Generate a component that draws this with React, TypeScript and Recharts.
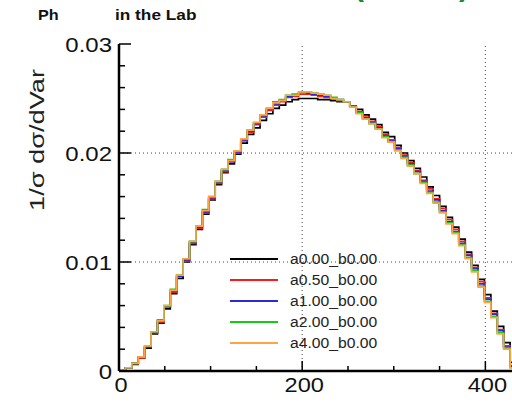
import React from "react";
import { LineChart, Line, XAxis, YAxis, ReferenceLine, Legend } from "recharts";

const FONT = '"Liberation Sans", Arial, Helvetica, sans-serif';

// left edge of each 7-unit bin (last entry closes the final bin)
const binEdges = [
    0, 7, 14, 21, 28, 35, 42, 49, 56, 63,
    70, 77, 84, 91, 98, 105, 112, 119, 126, 133,
    140, 147, 154, 161, 168, 175, 182, 189, 196, 203,
    210, 217, 224, 231, 238, 245, 252, 259, 266, 273,
    280, 287, 294, 301, 308, 315, 322, 329, 336, 343,
    350, 357, 364, 371, 378, 385, 392, 399, 406, 413,
    420, 427, 434,
];

const a000 = [
    0.0001, 0.0003, 0.0006, 0.0012, 0.0021, 0.0034, 0.0044, 0.0057, 0.0071, 0.0085,
    0.0100, 0.0116, 0.0130, 0.0144, 0.0157, 0.0171, 0.0182, 0.0190, 0.0199, 0.0209,
    0.0217, 0.0223, 0.0230, 0.0236, 0.0241, 0.0244, 0.0247, 0.0249, 0.0250, 0.0250,
    0.0250, 0.0249, 0.0249, 0.0248, 0.0247, 0.0247, 0.0243, 0.0240, 0.0235, 0.0231,
    0.0226, 0.0219, 0.0215, 0.0207, 0.0200, 0.0193, 0.0186, 0.0178, 0.0169, 0.0161,
    0.0151, 0.0141, 0.0132, 0.0121, 0.0109, 0.0097, 0.0084, 0.0070, 0.0055, 0.0041,
    0.0026, 0.0008,
];
const a050 = [
    0.0001, 0.0003, 0.0007, 0.0012, 0.0022, 0.0035, 0.0045, 0.0059, 0.0072, 0.0087,
    0.0101, 0.0117, 0.0131, 0.0145, 0.0158, 0.0172, 0.0183, 0.0192, 0.0200, 0.0211,
    0.0219, 0.0226, 0.0233, 0.0239, 0.0244, 0.0247, 0.0251, 0.0252, 0.0254, 0.0254,
    0.0253, 0.0252, 0.0251, 0.0250, 0.0248, 0.0247, 0.0243, 0.0238, 0.0233, 0.0229,
    0.0224, 0.0217, 0.0212, 0.0205, 0.0198, 0.0191, 0.0184, 0.0175, 0.0167, 0.0158,
    0.0149, 0.0139, 0.0130, 0.0119, 0.0107, 0.0095, 0.0082, 0.0067, 0.0053, 0.0038,
    0.0023, 0.0005,
];
const a100 = [
    0.0001, 0.0003, 0.0007, 0.0013, 0.0022, 0.0035, 0.0046, 0.0059, 0.0073, 0.0087,
    0.0102, 0.0118, 0.0132, 0.0146, 0.0159, 0.0173, 0.0184, 0.0192, 0.0201, 0.0212,
    0.0220, 0.0227, 0.0234, 0.0240, 0.0245, 0.0248, 0.0252, 0.0253, 0.0255, 0.0255,
    0.0254, 0.0253, 0.0252, 0.0250, 0.0249, 0.0247, 0.0242, 0.0237, 0.0232, 0.0228,
    0.0223, 0.0216, 0.0211, 0.0204, 0.0197, 0.0190, 0.0183, 0.0174, 0.0165, 0.0157,
    0.0147, 0.0137, 0.0128, 0.0117, 0.0106, 0.0094, 0.0080, 0.0066, 0.0052, 0.0037,
    0.0022, 0.0004,
];
const a200 = [
    0.0001, 0.0003, 0.0007, 0.0013, 0.0023, 0.0036, 0.0047, 0.0060, 0.0075, 0.0088,
    0.0103, 0.0119, 0.0133, 0.0148, 0.0160, 0.0174, 0.0185, 0.0194, 0.0202, 0.0213,
    0.0221, 0.0228, 0.0235, 0.0241, 0.0247, 0.0249, 0.0253, 0.0254, 0.0255, 0.0256,
    0.0255, 0.0254, 0.0253, 0.0251, 0.0249, 0.0247, 0.0242, 0.0237, 0.0231, 0.0227,
    0.0222, 0.0215, 0.0210, 0.0203, 0.0196, 0.0189, 0.0181, 0.0173, 0.0164, 0.0155,
    0.0146, 0.0136, 0.0127, 0.0116, 0.0104, 0.0092, 0.0078, 0.0064, 0.0050, 0.0035,
    0.0021, 0.0003,
];
const a400 = [
    0.0001, 0.0003, 0.0007, 0.0013, 0.0023, 0.0036, 0.0046, 0.0060, 0.0074, 0.0088,
    0.0103, 0.0119, 0.0133, 0.0147, 0.0160, 0.0174, 0.0185, 0.0193, 0.0202, 0.0213,
    0.0221, 0.0228, 0.0235, 0.0241, 0.0246, 0.0248, 0.0253, 0.0253, 0.0256, 0.0256,
    0.0255, 0.0254, 0.0253, 0.0250, 0.0249, 0.0247, 0.0242, 0.0236, 0.0231, 0.0227,
    0.0222, 0.0214, 0.0210, 0.0202, 0.0195, 0.0188, 0.0181, 0.0172, 0.0163, 0.0154,
    0.0145, 0.0135, 0.0126, 0.0115, 0.0103, 0.0091, 0.0077, 0.0063, 0.0049, 0.0034,
    0.0020, 0.0003,
];

const seriesList = [
    { key: "a000", name: "a0.00_b0.00", color: "#000000", values: a000 },
    { key: "a050", name: "a0.50_b0.00", color: "#ff1a1a", values: a050 },
    { key: "a100", name: "a1.00_b0.00", color: "#2b2bd6", values: a100 },
    { key: "a200", name: "a2.00_b0.00", color: "#12cc12", values: a200 },
    { key: "a400", name: "a4.00_b0.00", color: "#ffa345", values: a400 },
];

const xTicks = [0, 50, 100, 150, 200, 250, 300, 350, 400];
const xLabels = [0, 200, 400];
const yTicks = [0, 0.002, 0.004, 0.006, 0.008, 0.01, 0.012, 0.014, 0.016, 0.018, 0.02, 0.022, 0.024, 0.026, 0.028, 0.03];
const yLabels = [0, 0.01, 0.02, 0.03];
const gridX = [200, 400];
const gridY = [0.01, 0.02];

// plot box (px)
const PL = 119;
const PT = 44;
const PB = 371;
const PR = 522;

const rows = binEdges.map((x, i) => {
    const row: any = { x };
    seriesList.forEach((s) => {
        row[s.key] = s.values[i] ?? 0;
    });
    return row;
});

const fmtY = (v: number) => (v === 0 ? "0" : v.toFixed(2));

const LeftTick = (props: any) => {
    const { y, payload } = props;
    const major = yLabels.includes(payload.value);
    return (
        <g>
            <line x1={PL} x2={PL + (major ? 12 : 6)} y1={y} y2={y} stroke="#000" strokeWidth={1.5} />
            {major && (
                <text transform={`translate(${PL - 7},${y + 8}) scale(1.2,1)`} textAnchor="end" fontSize={20} fill="#111" fontFamily={FONT}>
                    {fmtY(payload.value)}
                </text>
            )}
        </g>
    );
};

const RightTick = (props: any) => {
    const { y, payload } = props;
    const major = yLabels.includes(payload.value);
    return <line x1={PR} x2={PR - (major ? 12 : 6)} y1={y} y2={y} stroke="#000" strokeWidth={1.5} />;
};

const BottomTick = (props: any) => {
    const { x, payload } = props;
    const major = xLabels.includes(payload.value);
    return (
        <g>
            <line x1={x} x2={x} y1={PB} y2={PB - (major ? 10 : 5)} stroke="#000" strokeWidth={1.5} />
            {major && (
                <text transform={`translate(${x + 2},${PB + 21}) scale(1.18,1)`} textAnchor="middle" fontSize={20} fill="#111" fontFamily={FONT}>
                    {payload.value}
                </text>
            )}
        </g>
    );
};

const TopTick = (props: any) => {
    const { x, payload } = props;
    const major = xLabels.includes(payload.value);
    return <line x1={x} x2={x} y1={PT} y2={PT + (major ? 10 : 5)} stroke="#000" strokeWidth={1.5} />;
};

const YLabel = () => (
    <text transform="translate(44,140) rotate(-90)" textAnchor="middle" fontSize={21} fill="#222" fontFamily={FONT} textLength={142} lengthAdjust="spacingAndGlyphs">
        1/σ dσ/dVar
    </text>
);

const LegendContent = () => (
    <div style={{ fontFamily: FONT, fontSize: 14, color: "#222" }}>
        {seriesList.map((s) => (
            <div key={s.key} style={{ height: 21.1, display: "flex", alignItems: "center" }}>
                <svg width={48} height={4} style={{ display: "block" }}>
                    <line x1={0} x2={48} y1={2} y2={2} stroke={s.color} strokeWidth={2} />
                </svg>
                <span style={{ marginLeft: 12, display: "inline-block", transform: "scaleX(1.12)", transformOrigin: "left center", whiteSpace: "nowrap" }}>
                    {s.name}
                </span>
            </div>
        ))}
    </div>
);

export default function App() {
    return (
        <div style={{ position: "absolute", left: 0, top: 0, width: 512, height: 402, overflow: "hidden", background: "#fff" }}>
            <LineChart width={530} height={402} data={rows} margin={{ top: PT, right: 530 - PR, bottom: 0, left: 0 }}>
                <XAxis xAxisId="bottom" dataKey="x" type="number" domain={[0, 440]} ticks={xTicks} interval={0}
                    height={402 - PB} axisLine={{ stroke: "#000", strokeWidth: 2.5 }} tickLine={false} tick={BottomTick} />
                <XAxis xAxisId="top" orientation="top" dataKey="x" type="number" domain={[0, 440]} ticks={xTicks} interval={0}
                    height={0} axisLine={{ stroke: "#000", strokeWidth: 2.5 }} tickLine={false} tick={TopTick} />
                <YAxis yAxisId="left" type="number" domain={[0, 0.03]} ticks={yTicks} interval={0} width={PL}
                    axisLine={{ stroke: "#000", strokeWidth: 2.5 }} tickLine={false} tick={LeftTick} label={YLabel} />
                <YAxis yAxisId="right" orientation="right" type="number" domain={[0, 0.03]} ticks={yTicks} interval={0} width={0}
                    axisLine={{ stroke: "#000", strokeWidth: 2.5 }} tickLine={false} tick={RightTick} />
                {gridY.map((v) => (
                    <ReferenceLine key={`gy${v}`} xAxisId="bottom" yAxisId="left" y={v} stroke="#444" strokeWidth={1} strokeDasharray="1 3" />
                ))}
                {gridX.map((v) => (
                    <ReferenceLine key={`gx${v}`} xAxisId="bottom" yAxisId="left" x={v} stroke="#444" strokeWidth={1} strokeDasharray="1 3" />
                ))}
                {seriesList.map((s) => (
                    <Line key={s.key} xAxisId="bottom" yAxisId="left" type="stepAfter" dataKey={s.key} name={s.name}
                        stroke={s.color} strokeWidth={1.7} dot={false} activeDot={false} isAnimationActive={false} />
                ))}
                <Legend layout="vertical" align="center" verticalAlign="middle" content={LegendContent}
                    wrapperStyle={{ left: 230, top: 248, width: "auto" }} />
            </LineChart>
            {/* title row, cut off at the top like the source image */}
            <svg width={512} height={40} style={{ position: "absolute", left: 0, top: 0, pointerEvents: "none" }}>
                <text transform="translate(38,20) scale(1.08,1)" fontSize={15} fontWeight="bold" fill="#111" fontFamily={FONT}>Ph</text>
                <text transform="translate(115,20) scale(1.15,1)" fontSize={15} fontWeight="bold" fill="#111" fontFamily={FONT}>in the Lab</text>
                <text x={354} y={-4} fontSize={30} fontWeight="bold" fill="#1a8a3a" fontFamily={FONT}>(</text>
                <text x={459} y={-4} fontSize={30} fontWeight="bold" fill="#1a8a3a" fontFamily={FONT}>)</text>
            </svg>
        </div>
    );
}
